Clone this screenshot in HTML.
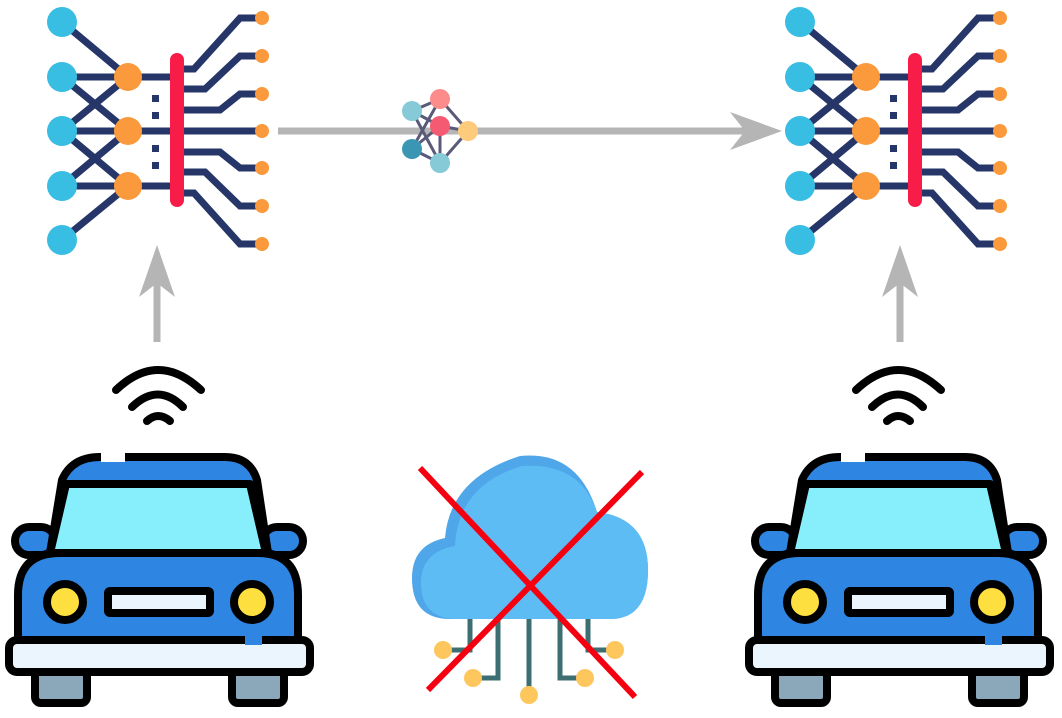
<!DOCTYPE html>
<html><head><meta charset="utf-8"><style>html,body{margin:0;padding:0;background:#fff}svg{display:block}</style></head>
<body>
<svg width="1062" height="718" viewBox="0 0 1062 718" xmlns="http://www.w3.org/2000/svg">
<defs>
<g id="nn">
  <g stroke="#263668" stroke-width="7" fill="none" stroke-linejoin="miter">
    <line x1="62" y1="22" x2="128" y2="77"/>
    <line x1="62" y1="77" x2="128" y2="77"/>
    <line x1="62" y1="77" x2="128" y2="131"/>
    <line x1="62" y1="131" x2="128" y2="77"/>
    <line x1="62" y1="131" x2="128" y2="131"/>
    <line x1="62" y1="131" x2="128" y2="186"/>
    <line x1="62" y1="186" x2="128" y2="131"/>
    <line x1="62" y1="186" x2="128" y2="186"/>
    <line x1="62" y1="240" x2="128" y2="186"/>
    <line x1="128" y1="77" x2="177" y2="77"/>
    <line x1="128" y1="131" x2="177" y2="131"/>
    <line x1="128" y1="186" x2="177" y2="186"/>
    <polyline points="177,69 194,69 240,18 262,18"/>
    <polyline points="177,89 205,89 240,56 262,56"/>
    <polyline points="177,110 220,110 240,94 262,94"/>
    <polyline points="177,131 262,131"/>
    <polyline points="177,152 220,152 240,168 262,168"/>
    <polyline points="177,172 205,172 240,206 262,206"/>
    <polyline points="177,193 194,193 240,244 262,244"/>
  </g>
  <g fill="#263668">
    <rect x="152" y="95" width="7" height="7"/><rect x="152" y="112" width="7" height="7"/>
    <rect x="152" y="145" width="7" height="7"/><rect x="152" y="162" width="7" height="7"/>
  </g>
  <g fill="#38bde3">
    <circle cx="62" cy="22" r="15"/><circle cx="62" cy="77" r="15"/><circle cx="62" cy="131" r="15"/>
    <circle cx="62" cy="186" r="15"/><circle cx="62" cy="240" r="15"/>
  </g>
  <g fill="#fa9a3c">
    <circle cx="128" cy="77" r="14"/><circle cx="128" cy="131" r="14"/><circle cx="128" cy="186" r="14"/>
    <circle cx="262" cy="18" r="7"/><circle cx="262" cy="56" r="7"/><circle cx="262" cy="94" r="7"/>
    <circle cx="262" cy="131" r="7"/><circle cx="262" cy="168" r="7"/><circle cx="262" cy="206" r="7"/><circle cx="262" cy="244" r="7"/>
  </g>
  <rect x="170" y="53" width="14" height="154" rx="7" fill="#f81c48"/>
</g>
<g id="car">
  <g fill="none" stroke="#000" stroke-width="8" stroke-linecap="round">
    <path d="M116,390 Q158,350 201,390"/>
    <path d="M132,407 Q158,382 183,407"/>
    <path d="M147,421 Q158,411 170,421"/>
  </g>
  <g stroke="#000" stroke-width="8" stroke-linejoin="round">
    <rect x="35" y="655" width="52" height="48" rx="6" fill="#8aa8ba"/>
    <rect x="232" y="655" width="52" height="48" rx="6" fill="#8aa8ba"/>
    <rect x="15" y="527" width="40" height="28" rx="14" fill="#2f86e2"/>
    <rect x="263" y="527" width="40" height="28" rx="14" fill="#2f86e2"/>
    <path d="M50,553 L62,480 Q72,457 100,457 L225,457 Q250,457 257,480 L268,553 Z" fill="#2f86e2"/>
    <path d="M50,553 L66,484 L250,484 L266,553 Z" fill="#87eefc"/>
    <path d="M18,640 L18,595 Q18,553 60,553 L258,553 Q298,553 298,595 L298,640 Z" fill="#2f86e2"/>
    <rect x="9" y="640" width="301" height="32" rx="8" fill="#eaf5fd"/>
    <circle cx="65" cy="602" r="18" fill="#fddf3f"/>
    <circle cx="252" cy="602" r="18" fill="#fddf3f"/>
    <rect x="108" y="591" width="102" height="22" rx="2" fill="#eaf5fd"/>
  </g>
  <rect x="101" y="453" width="24" height="9" fill="#fff"/>
  <rect x="245" y="636" width="17" height="9" fill="#2f86e2"/>
</g>
</defs>
<use href="#nn"/>
<use href="#nn" x="738"/>
<use href="#car"/>
<use href="#car" x="740"/>
<line x1="278" y1="131" x2="760" y2="131" stroke="#b5b5b5" stroke-width="7"/>
<polygon points="782,131 730,112 745,131 730,150" fill="#b5b5b5"/>
<line x1="157" y1="342" x2="157" y2="272" stroke="#b5b5b5" stroke-width="7"/>
<polygon points="157,245 139,297 157,283 175,297" fill="#b5b5b5"/>
<line x1="900" y1="342" x2="900" y2="272" stroke="#b5b5b5" stroke-width="7"/>
<polygon points="900,245 882,297 900,283 918,297" fill="#b5b5b5"/>
<g stroke="#5a5a78" stroke-width="3">
  <line x1="412" y1="111" x2="440" y2="99"/><line x1="412" y1="111" x2="440" y2="126"/><line x1="412" y1="111" x2="440" y2="163"/>
  <line x1="412" y1="149" x2="440" y2="99"/><line x1="412" y1="149" x2="440" y2="126"/><line x1="412" y1="149" x2="440" y2="163"/>
  <line x1="440" y1="99" x2="468" y2="131"/><line x1="440" y1="126" x2="468" y2="131"/><line x1="440" y1="163" x2="468" y2="131"/>
  <line x1="440" y1="126" x2="440" y2="163"/>
</g>
<circle cx="412" cy="111" r="10" fill="#86cad8"/>
<circle cx="440" cy="99" r="10" fill="#fc8c8c"/>
<circle cx="440" cy="126" r="10" fill="#f45a72"/>
<circle cx="468" cy="131" r="10" fill="#fecb7c"/>
<circle cx="412" cy="149" r="10" fill="#3a96b2"/>
<circle cx="440" cy="163" r="10" fill="#86cad8"/>
<g stroke="#3d6e72" stroke-width="5" fill="none">
  <polyline points="470,615 470,650 445,650"/>
  <polyline points="498,615 498,678 473,678"/>
  <line x1="529" y1="615" x2="529" y2="695"/>
  <polyline points="560,615 560,678 585,678"/>
  <polyline points="588,615 588,650 613,650"/>
</g>
<g fill="#fec75e">
  <circle cx="443" cy="650" r="9"/><circle cx="473" cy="678" r="9"/><circle cx="529" cy="695" r="9"/>
  <circle cx="585" cy="678" r="9"/><circle cx="615" cy="650" r="9"/>
</g>
<path d="M450,619 Q412,619 412,578 Q412,545 445,538 Q450,478 520,456 Q578,450 597,512 Q648,518 648,570 Q648,619 610,619 Z" fill="#4fa6e8"/>
<path d="M458,619 Q421,619 421,583 Q421,552 455,546 Q458,485 522,466 Q580,462 597,512 Q648,518 648,570 Q648,619 610,619 Z" fill="#5ebcf5"/>
<g stroke="#f50010" stroke-width="6">
  <line x1="420" y1="468" x2="635" y2="697"/>
  <line x1="642" y1="472" x2="428" y2="690"/>
</g>
</svg>
</body></html>
